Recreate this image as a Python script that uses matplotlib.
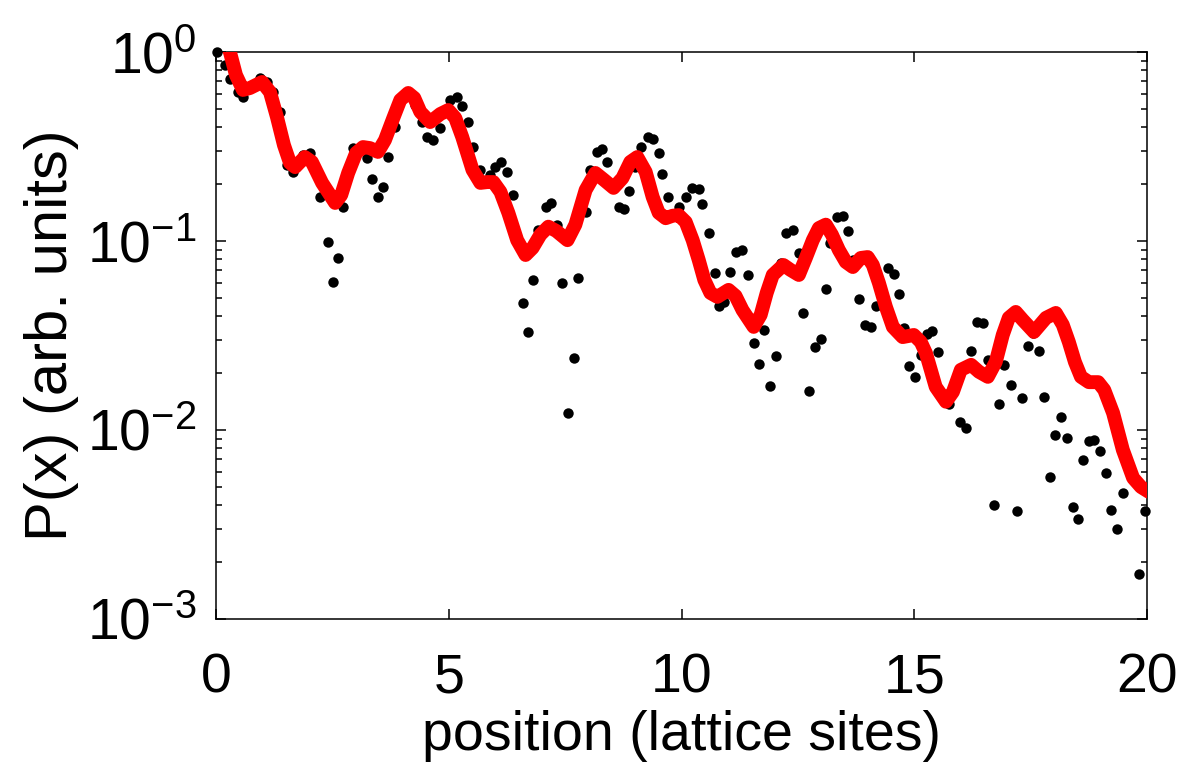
"""
decay profile on a lattice: measured P(x) (dots) vs model (red curve), log scale.
"""
import numpy as np
import matplotlib
matplotlib.use("Agg")
import matplotlib.pyplot as plt
from matplotlib.ticker import LogLocator, FixedLocator, NullFormatter

plt.rcParams['font.family'] = ['Liberation Sans', 'DejaVu Sans']
plt.rcParams['mathtext.fontset'] = 'custom'
plt.rcParams['mathtext.rm'] = 'Liberation Sans'
plt.rcParams['mathtext.it'] = 'Liberation Sans'
plt.rcParams['mathtext.default'] = 'regular'

# measured points (black dots)
dots_x = [0.02, 0.19, 0.30, 0.47, 0.58, 0.95, 1.10, 1.23, 1.38, 1.53, 1.66, 1.87, 2.02, 2.24,
          2.41, 2.52, 2.62, 2.73, 2.95, 3.25, 3.35, 3.48, 3.59, 3.70, 3.85, 4.28, 4.43, 4.54,
          4.67, 4.82, 5.03, 5.18, 5.29, 5.42, 5.53, 5.68, 5.89, 6.00, 6.13, 6.26, 6.37, 6.60,
          6.71, 6.82, 6.92, 7.08, 7.20, 7.33, 7.44, 7.57, 7.68, 7.78, 7.94, 8.04, 8.19, 8.30,
          8.41, 8.65, 8.77, 8.88, 9.01, 9.12, 9.27, 9.38, 9.51, 9.59, 9.72, 9.94, 10.09, 10.22,
          10.37, 10.45, 10.58, 10.71, 10.80, 10.92, 11.05, 11.18, 11.31, 11.42, 11.55, 11.66,
          11.78, 11.91, 12.02, 12.13, 12.24, 12.39, 12.52, 12.60, 12.73, 12.86, 12.99, 13.10,
          13.20, 13.35, 13.46, 13.57, 13.68, 13.81, 13.94, 14.06, 14.17, 14.43, 14.56, 14.67,
          14.77, 14.88, 15.01, 15.14, 15.27, 15.38, 15.51, 15.74, 15.98, 16.11, 16.22, 16.34,
          16.47, 16.58, 16.71, 16.82, 16.92, 17.08, 17.20, 17.31, 17.44, 17.55, 17.68, 17.78,
          17.91, 18.02, 18.15, 18.28, 18.41, 18.52, 18.62, 18.75, 18.86, 18.99, 19.12, 19.23,
          19.35, 19.48, 19.83, 19.96]
dots_p = [1.0, 0.853, 0.72, 0.614, 0.578, 0.728, 0.694, 0.614, 0.482, 0.252, 0.232, 0.285, 0.292,
          0.171, 0.0988, 0.0607, 0.0813, 0.151, 0.310, 0.275, 0.213, 0.171, 0.193, 0.278, 0.401,
          0.524, 0.426, 0.355, 0.342, 0.396, 0.557, 0.578, 0.518, 0.426, 0.314, 0.238, 0.224,
          0.246, 0.262, 0.232, 0.175, 0.047, 0.033, 0.0622, 0.114, 0.151, 0.159, 0.122, 0.060,
          0.0123, 0.0240, 0.0637, 0.142, 0.238, 0.296, 0.307, 0.262, 0.151, 0.148, 0.184, 0.246,
          0.314, 0.355, 0.347, 0.292, 0.226, 0.171, 0.151, 0.171, 0.191, 0.188, 0.157, 0.110,
          0.0677, 0.0453, 0.0475, 0.0686, 0.0875, 0.0896, 0.0661, 0.0289, 0.0223, 0.0338, 0.0171,
          0.0246, 0.0765, 0.110, 0.114, 0.0864, 0.0416, 0.0161, 0.0275, 0.0303, 0.0557, 0.0975,
          0.134, 0.136, 0.113, 0.0793, 0.0493, 0.0360, 0.0351, 0.0453, 0.0719, 0.0669, 0.0525,
          0.0347, 0.0218, 0.0191, 0.0249, 0.0322, 0.0334, 0.0259, 0.0137, 0.0110, 0.0103, 0.0262,
          0.0373, 0.0368, 0.0235, 0.00401, 0.0137, 0.0221, 0.0173, 0.00373, 0.0148, 0.0278,
          0.0326, 0.0262, 0.0150, 0.00564, 0.00941, 0.0117, 0.00907, 0.00392, 0.00338, 0.00693,
          0.00875, 0.00885, 0.00775, 0.00592, 0.00377, 0.00299, 0.00464, 0.00173, 0.00373]

# model curve (red)
curve_x = [0.0, 0.30, 0.43, 0.58, 0.73, 0.99, 1.16, 1.31, 1.46, 1.59, 1.70, 1.91, 2.06, 2.28,
           2.56, 2.69, 2.84, 3.01, 3.16, 3.31, 3.48, 3.63, 3.81, 3.96, 4.13, 4.26, 4.39, 4.60,
           4.82, 4.99, 5.14, 5.29, 5.51, 5.68, 5.83, 5.96, 6.11, 6.28, 6.47, 6.65, 6.80, 6.97,
           7.14, 7.31, 7.55, 7.72, 7.94, 8.15, 8.34, 8.54, 8.73, 8.90, 9.05, 9.23, 9.38, 9.51,
           9.66, 9.81, 9.94, 10.09, 10.24, 10.37, 10.49, 10.62, 10.77, 11.01, 11.16, 11.31, 11.55,
           11.70, 11.83, 11.96, 12.19, 12.34, 12.52, 12.67, 12.82, 12.95, 13.10, 13.23, 13.38,
           13.53, 13.68, 13.85, 14.00, 14.11, 14.24, 14.39, 14.54, 14.75, 14.99, 15.14, 15.25,
           15.46, 15.68, 15.83, 16.00, 16.22, 16.39, 16.58, 16.75, 16.90, 17.03, 17.18, 17.33,
           17.57, 17.83, 18.04, 18.19, 18.32, 18.45, 18.58, 18.75, 18.95, 19.08, 19.27, 19.48,
           19.70, 19.87, 20.04]
curve_p = [1.63, 1.0, 0.755, 0.63, 0.645, 0.694, 0.614, 0.453, 0.322, 0.259, 0.246, 0.278, 0.262,
           0.203, 0.159, 0.175, 0.229, 0.292, 0.314, 0.310, 0.296, 0.342, 0.448, 0.557, 0.607,
           0.571, 0.482, 0.426, 0.470, 0.493, 0.448, 0.355, 0.238, 0.203, 0.205, 0.205, 0.182,
           0.141, 0.101, 0.0843, 0.0918, 0.108, 0.119, 0.113, 0.101, 0.122, 0.186, 0.229, 0.210,
           0.191, 0.215, 0.262, 0.278, 0.232, 0.171, 0.141, 0.132, 0.136, 0.137, 0.126, 0.101,
           0.0793, 0.0622, 0.0531, 0.0506, 0.0551, 0.0512, 0.0431, 0.0351, 0.0406, 0.0531, 0.0661,
           0.0746, 0.0703, 0.0661, 0.0813, 0.101, 0.117, 0.122, 0.108, 0.0896, 0.0774, 0.0728,
           0.0813, 0.0822, 0.0746, 0.0600, 0.0448, 0.0351, 0.0310, 0.0318, 0.0292, 0.0255, 0.0169,
           0.0141, 0.0159, 0.0208, 0.0221, 0.0203, 0.0191, 0.0229, 0.0318, 0.0392, 0.0421, 0.0382,
           0.0330, 0.0392, 0.0416, 0.0360, 0.0292, 0.0229, 0.0191, 0.0179, 0.0179, 0.0163, 0.0123,
           0.00784, 0.00557, 0.00499, 0.00470]

x_ticks = [0, 5, 10, 15, 20]


def main():
    fig = plt.figure(figsize=(11.84, 7.65), dpi=100)
    ax = fig.add_axes([0.1824, 0.191, 0.7864, 0.741])

    ax.plot(dots_x, dots_p, 'o', color='black', markersize=7.5, markeredgewidth=0,
            clip_on=False, zorder=2)
    ax.plot(curve_x, curve_p, '-', color='#ff0000', linewidth=10,
            solid_capstyle='round', solid_joinstyle='round', zorder=3)

    ax.set_yscale('log')
    ax.set_xlim(0, 20)
    ax.set_ylim(1e-3, 1e0)
    ax.xaxis.set_major_locator(FixedLocator(x_ticks))
    ax.yaxis.set_major_locator(LogLocator(base=10, numticks=10))
    ax.yaxis.set_minor_locator(LogLocator(base=10, subs=np.arange(2, 10), numticks=10))
    ax.yaxis.set_minor_formatter(NullFormatter())

    ax.tick_params(which='both', direction='in', top=True, right=True, width=1.1,
                   colors='black')
    ax.tick_params(which='major', length=7)
    ax.tick_params(which='minor', length=4)
    ax.tick_params(axis='x', labelsize=40, pad=24)
    ax.tick_params(axis='y', labelsize=41, pad=14)
    for s in ax.spines.values():
        s.set_linewidth(1.1)

    ax.set_xlabel('position (lattice sites)', fontsize=40, labelpad=4)
    ax.set_ylabel('P(x) (arb. units)', fontsize=43, labelpad=6)

    fig.savefig('out.png', dpi=100)
    plt.close(fig)


if __name__ == "__main__":
    main()
